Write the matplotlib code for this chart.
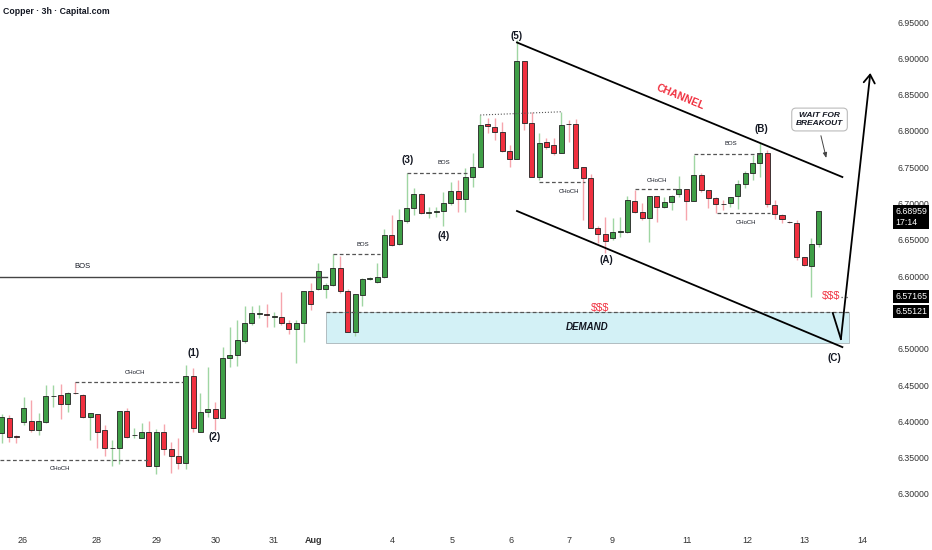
import numpy as np
import matplotlib
matplotlib.use('Agg')
import matplotlib.pyplot as plt
from matplotlib.patches import Rectangle, FancyArrowPatch
from matplotlib.transforms import blended_transform_factory

plt.rcParams['font.family'] = ['Liberation Sans', 'DejaVu Sans']

# 3h candles
opens = [6.384, 6.4045, 6.3797, 6.3990, 6.4004, 6.3880, 6.3990, 6.4348, 6.4362, 6.4238,
         6.4390, 6.4362, 6.4059, 6.4101, 6.3880, 6.3632, 6.3632, 6.4142, 6.3811, 6.3770,
         6.3852, 6.3384, 6.3852, 6.3618, 6.3522, 6.3426, 6.4624, 6.3852, 6.4128, 6.4169,
         6.4045, 6.4872, 6.4913, 6.5106, 6.5354, 6.5478, 6.5468, 6.5437, 6.5437, 6.5354,
         6.5272, 6.5354, 6.5795, 6.5823, 6.5823, 6.5878, 6.6112, 6.5795, 6.5230, 6.5740,
         6.5960, 6.5919, 6.5988, 6.6566, 6.6442, 6.6759, 6.6938, 6.7131, 6.6869, 6.6883,
         6.6897, 6.7007, 6.7173, 6.7062, 6.7365, 6.7503, 6.8095, 6.8054, 6.7985, 6.7723,
         6.7613, 6.8963, 6.8109, 6.7365, 6.7847, 6.7806, 6.7696, 6.8095, 6.8095, 6.7503,
         6.7352, 6.6663, 6.6580, 6.6525, 6.6607, 6.6607, 6.7034, 6.6883, 6.6800, 6.7103,
         6.6952, 6.7021, 6.7131, 6.7200, 6.7034, 6.7393, 6.7186, 6.7076, 6.6993, 6.7007,
         6.7103, 6.7269, 6.7420, 6.7558, 6.7696, 6.6979, 6.6842, 6.6745, 6.6731, 6.6263,
         6.6140, 6.6442]
highs = [6.410, 6.4086, 6.381, 6.4334, 6.4293, 6.4114, 6.4500, 6.4500, 6.4514, 6.4403,
         6.4541, 6.4376, 6.4120, 6.4105, 6.3948, 6.3743, 6.4145, 6.4183, 6.3907, 6.3976,
         6.4004, 6.3893, 6.3962, 6.3715, 6.3770, 6.4776, 6.4734, 6.4390, 6.4748, 6.4266,
         6.5023, 6.5299, 6.5395, 6.5588, 6.5588, 6.5602, 6.5616, 6.5506, 6.5781, 6.5395,
         6.5395, 6.5800, 6.5905, 6.6180, 6.5905, 6.6304, 6.6277, 6.5823, 6.5760, 6.5974,
         6.5988, 6.6180, 6.6649, 6.6842, 6.6924, 6.7420, 6.7214, 6.7145, 6.6952, 6.6952,
         6.7159, 6.7296, 6.7324, 6.7489, 6.7696, 6.8219, 6.8178, 6.8178, 6.8123, 6.7806,
         6.9252, 6.8965, 6.8260, 6.7971, 6.7902, 6.7902, 6.8260, 6.8150, 6.8164, 6.7505,
         6.7406, 6.6690, 6.6814, 6.6800, 6.6814, 6.7103, 6.7186, 6.7007, 6.7105, 6.7105,
         6.7090, 6.7117, 6.7379, 6.7205, 6.7668, 6.7420, 6.7190, 6.7090, 6.7048, 6.7095,
         6.7324, 6.7448, 6.7668, 6.7833, 6.7737, 6.7048, 6.6855, 6.6759, 6.6773, 6.6265,
         6.6525, 6.6900]
lows = [6.370, 6.3715, 6.3701, 6.3948, 6.3852, 6.3811, 6.3976, 6.4197, 6.4031, 6.4128,
        6.4376, 6.4040, 6.3743, 6.3632, 6.3522, 6.3384, 6.3412, 6.3770, 6.3770, 6.3765,
        6.3380, 6.3274, 6.3536, 6.3288, 6.3343, 6.3343, 6.3852, 6.3848, 6.4059, 6.3880,
        6.4040, 6.4748, 6.4761, 6.5079, 6.5327, 6.5423, 6.5299, 6.5299, 6.5327, 6.5203,
        6.4803, 6.5093, 6.5533, 6.5809, 6.5699, 6.5864, 6.5768, 6.5225, 6.5175, 6.5588,
        6.5950, 6.5905, 6.5974, 6.6420, 6.6428, 6.6731, 6.6842, 6.6860, 6.6800, 6.6814,
        6.6690, 6.6979, 6.6883, 6.6883, 6.7227, 6.7500, 6.7971, 6.7875, 6.7710, 6.7503,
        6.7610, 6.8013, 6.7360, 6.7324, 6.7751, 6.7668, 6.7690, 6.7847, 6.7485, 6.6773,
        6.6660, 6.6456, 6.6318, 6.6497, 6.6539, 6.6600, 6.6869, 6.6773, 6.6470, 6.6745,
        6.6938, 6.6911, 6.7090, 6.6773, 6.7030, 6.7159, 6.6938, 6.6869, 6.6911, 6.6952,
        6.6924, 6.7214, 6.7324, 6.7365, 6.6952, 6.6787, 6.6731, 6.6731, 6.6222, 6.6140,
        6.5717, 6.6400]
closes = [6.406, 6.3783, 6.3790, 6.4183, 6.3880, 6.4004, 6.4348, 6.4350, 6.4238, 6.4390,
          6.4385, 6.4059, 6.4114, 6.3852, 6.3632, 6.3635, 6.4142, 6.3783, 6.3815, 6.3852,
          6.3384, 6.3852, 6.3618, 6.3522, 6.3426, 6.4624, 6.3907, 6.4128, 6.4169, 6.4045,
          6.4872, 6.4913, 6.5120, 6.5354, 6.5492, 6.5482, 6.5464, 6.5440, 6.5354, 6.5272,
          6.5354, 6.5795, 6.5616, 6.6070, 6.5878, 6.6112, 6.5795, 6.5230, 6.5754, 6.5960,
          6.5965, 6.5988, 6.6566, 6.6428, 6.6773, 6.6938, 6.7131, 6.6869, 6.6883, 6.6897,
          6.7007, 6.7173, 6.7062, 6.7365, 6.7503, 6.8081, 6.8068, 6.7985, 6.7723, 6.7613,
          6.8963, 6.8109, 6.7365, 6.7833, 6.7778, 6.7696, 6.8081, 6.8092, 6.7489, 6.7352,
          6.6663, 6.6580, 6.6484, 6.6607, 6.6610, 6.7048, 6.6883, 6.6800, 6.7103, 6.6952,
          6.7021, 6.7103, 6.7200, 6.7034, 6.7393, 6.7186, 6.7076, 6.6993, 6.6990, 6.7090,
          6.7269, 6.7420, 6.7558, 6.7696, 6.6993, 6.6855, 6.6787, 6.6742, 6.6263, 6.6153,
          6.6442, 6.68959]

date_labels = ['26', '28', '29', '30', '31', 'Aug', '4', '5', '6', '7', '9', '11', '12', '13', '14']
date_pos = [2.9, 12.95, 21.1, 29.1, 37.0, 42.3, 53.0, 61.2, 69.2, 77.1, 82.9, 93.1, 101.3, 109.1, 116.9]
price_ticks = [6.30, 6.35, 6.40, 6.45, 6.50, 6.55, 6.60, 6.65, 6.70, 6.75, 6.80, 6.85, 6.90, 6.95]
tags = [6.57165, 6.55121]
last_price = 6.68959
demand_top, demand_bot = 6.5512, 6.508

GREEN = '#3f9f47'
RED = '#f0303f'
INK = '#131722'

fig = plt.figure(figsize=(9.32, 5.5), dpi=100)
ax = fig.add_axes([0, 25 / 550, 888 / 932, 525 / 550])

o = np.array(opens); h = np.array(highs); l = np.array(lows); c = np.array(closes)
idx = np.arange(len(o))
up = c >= o
ax.vlines(idx[up], l[up], h[up], color='#9fd6a3', lw=1, zorder=2)
ax.vlines(idx[~up], l[~up], h[~up], color='#f6a5ad', lw=1, zorder=2)
body = np.maximum(np.abs(c - o), 0.0008)
ax.bar(idx, body, bottom=np.minimum(o, c), width=0.68,
       color=np.where(up, GREEN, RED), edgecolor='#222222', linewidth=0.6, zorder=3)

ax.set_xlim(-0.231, 120.4)
ax.set_ylim(6.2573, 6.9803)
for s in ax.spines.values():
    s.set_visible(False)
ax.yaxis.tick_right()
ax.set_yticks(price_ticks)
ax.set_yticklabels(['%.5f' % v for v in price_ticks])
ax.set_xticks(date_pos)
ax.set_xticklabels(date_labels)
ax.tick_params(axis='y', length=0, pad=6.5, labelsize=6.3, labelcolor='#333333')
ax.tick_params(axis='x', length=0, pad=8, labelsize=6.5, labelcolor='#333333')
for t in ax.get_xticklabels():
    if t.get_text() == 'Aug':
        t.set_fontweight('bold')

dash = dict(color='#555555', lw=0.9, ls=(0, (3, 2)), zorder=4)
small = dict(fontsize=4.3, color=INK, ha='center', va='center')
wave = dict(fontsize=7, color=INK, ha='center', va='center', fontweight='bold')

# structure lines
ax.plot([-0.23, 44.2], [6.5988, 6.5988], color='#444444', lw=1.0, zorder=4)
ax.text(10.9, 6.6139, 'BOS', fontsize=5.5, color=INK, ha='center', va='center')
ax.plot([10.0, 24.6], [6.4545, 6.4545], **dash)
ax.text(18.1, 6.4679, 'CHoCH', **small)
ax.plot([-0.2, 19.9], [6.3467, 6.3467], **dash)
ax.text(7.9, 6.3357, 'CHoCH', **small)
ax.plot([45.0, 51.4], [6.6304, 6.6304], **dash)
ax.text(49.0, 6.6442, 'BOS', **small)
ax.plot([55.1, 63.5], [6.7427, 6.7427], **dash)
ax.text(60.0, 6.7572, 'BOS', **small)
ax.plot([65.0, 76.1], [6.8219, 6.8264], color='#555555', lw=0.8, ls=':', zorder=4)
ax.plot([73.0, 79.3], [6.7300, 6.7300], **dash)
ax.text(77.0, 6.7172, 'CHoCH', **small)
ax.plot([86.0, 92.2], [6.7196, 6.7196], **dash)
ax.text(89.0, 6.7324, 'CHoCH', **small)
ax.plot([94.1, 103.0], [6.7678, 6.7678], **dash)
ax.text(99.1, 6.7820, 'BOS', **small)
ax.plot([97.2, 104.4], [6.6873, 6.6873], **dash)
ax.text(101.1, 6.6745, 'CHoCH', **small)

# wave labels
for x, y, s in [(26.0, 6.4941, '(1)'), (28.9, 6.3784, '(2)'), (55.1, 6.7599, '(3)'),
                (60.0, 6.6552, '(4)'), (70.0, 6.9307, '(5)'), (82.1, 6.6222, '(A)'),
                (103.2, 6.8026, '(B)'), (113.1, 6.4872, '(C)')]:
    ax.text(x, y, s, **wave)

# demand zone
ax.add_patch(Rectangle((44.1, demand_bot), 115.1 - 44.1, demand_top - demand_bot,
                       facecolor='#d3f1f6', edgecolor='#a8b4b8', lw=0.6, zorder=1))
ax.plot([44.1, 115.1], [demand_top, demand_top], **dash)
ax.text(79.5, 6.5299, 'DEMAND', fontsize=7, fontweight='bold', fontstyle='italic',
        color=INK, ha='center', va='center', zorder=5)
ax.text(81.3, 6.5560, '$$$', fontsize=8, color=RED, ha='center', va='center', zorder=5)
ax.plot([111.3, 115.1], [6.5717, 6.5717], color='#555555', lw=0.9, ls=(0, (1, 3)), zorder=4)
ax.text(112.6, 6.5724, '$$$', fontsize=8, color=RED, ha='center', va='center', zorder=5,
        bbox=dict(facecolor='white', edgecolor='none', pad=0.5))

# channel
ax.plot([70.0, 114.2], [6.9218, 6.7365], color='black', lw=1.3, zorder=5)
ax.plot([70.0, 114.2], [6.6897, 6.5023], color='black', lw=1.3, zorder=5)
ax.text(92.2, 6.8467, 'CHANNEL', fontsize=7.5, color=RED, rotation=-22.5,
        ha='center', va='center', fontweight='bold')

# projected path
ax.plot([112.9, 114.0], [6.5492, 6.5134], color='black', lw=1.3, zorder=6)
ax.add_patch(FancyArrowPatch((114.0, 6.5134), (118.0, 6.8798), arrowstyle='->,head_length=6,head_width=4',
                             color='black', lw=1.3, zorder=6, shrinkA=0, shrinkB=0))

ax.text(111.1, 6.8157, 'WAIT FOR\nBREAKOUT', fontsize=6, fontweight='bold', fontstyle='italic',
        color=INK, ha='center', va='center', linespacing=1.1,
        bbox=dict(boxstyle='round,pad=0.5', facecolor='white', edgecolor='#bbbbbb', lw=0.8))
ax.annotate('', xy=(112.1, 6.7590), xytext=(111.2, 6.7971),
            arrowprops=dict(arrowstyle='-|>,head_length=0.3,head_width=0.12', color='#444444', lw=0.7))

# price tags on the right scale
tr = blended_transform_factory(fig.transFigure, ax.transData)
for v in tags:
    fig.text(895 / 932, v, '%.5f' % v, transform=tr, fontsize=6.3, color='white', ha='left',
             va='center', bbox=dict(facecolor='black', edgecolor='none', pad=1.3), zorder=10)
fig.text(895 / 932, last_price + 0.006, '%.5f\n17:14' % last_price, transform=tr, fontsize=6.3,
         color='white', ha='left', va='top', linespacing=1.3,
         bbox=dict(facecolor='black', edgecolor='none', pad=1.3), zorder=10)

fig.text(3 / 932, 1 - 11 / 550, 'Copper · 3h · Capital.com', fontsize=6.3, fontweight='bold',
         color=INK, ha='left', va='center')

fig.savefig('out.png', dpi=100, facecolor='white')
